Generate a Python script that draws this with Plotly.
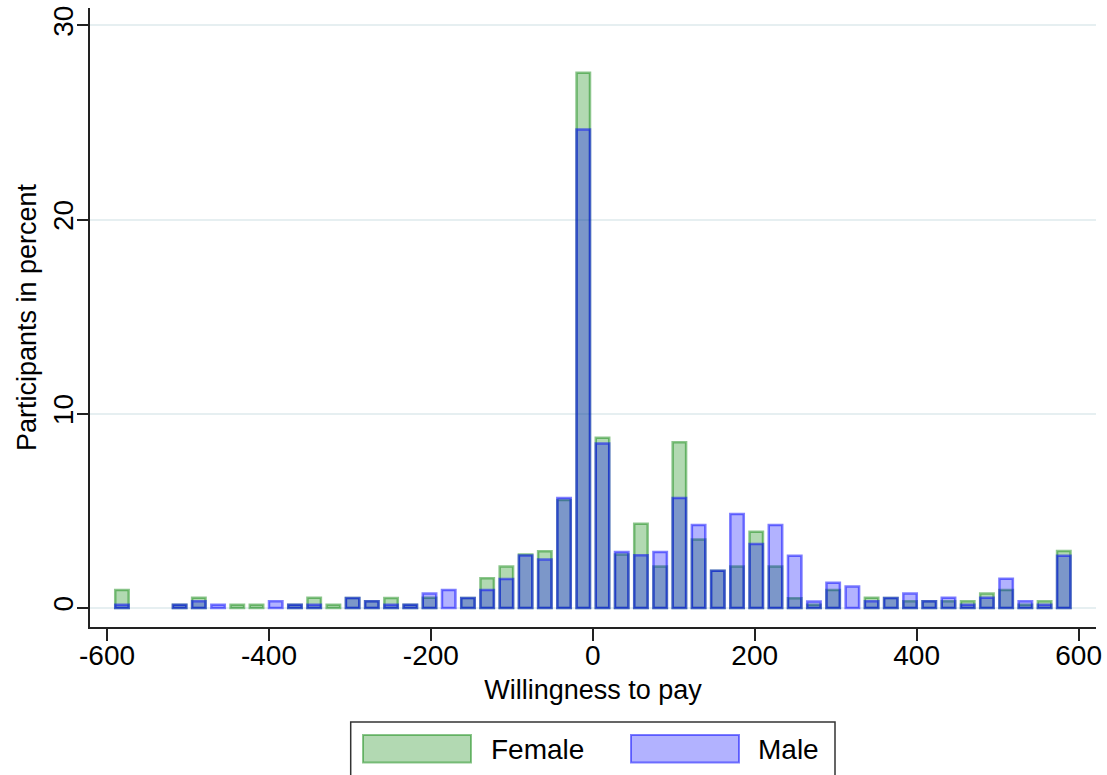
import plotly.graph_objects as go

# Histogram bins (Stata-style): 50 bins
bin_start = -593.4
bin_width = 23.74
n_bins = 50

female_pct = [0.93, 0, 0, 0.17, 0.53, 0, 0.17, 0.17, 0, 0.17,
              0.53, 0.17, 0.51, 0.34, 0.51, 0.17, 0.53, 0, 0.51, 1.53,
              2.13, 2.75, 2.92, 5.56, 27.57, 8.77, 2.75, 4.34, 2.13, 8.54,
              3.53, 1.92, 2.13, 3.93, 2.13, 0.50, 0.17, 0.93, 0, 0.53,
              0.51, 0.34, 0.34, 0.34, 0.34, 0.74, 0.93, 0.17, 0.34, 2.93]
male_pct = [0.17, 0, 0, 0.17, 0.34, 0.17, 0, 0, 0.34, 0.17,
            0.17, 0, 0.51, 0.34, 0.17, 0.17, 0.74, 0.93, 0.51, 0.93,
            1.49, 2.70, 2.49, 5.66, 24.64, 8.47, 2.88, 2.71, 2.88, 5.66,
            4.27, 1.92, 4.84, 3.29, 4.27, 2.69, 0.33, 1.30, 1.10, 0.34,
            0.51, 0.74, 0.34, 0.53, 0.17, 0.53, 1.51, 0.34, 0.17, 2.69]

x_ticks = [-600, -400, -200, 0, 200, 400, 600]
y_ticks = [0, 10, 20, 30]

centers = [bin_start + bin_width * (i + 0.5) for i in range(n_bins)]

def nz(vals):
    return [v if v > 0 else None for v in vals]

GREEN_FILL = "rgba(0,128,0,0.30)"
GREEN_LINE = "rgba(0,128,0,0.45)"
BLUE_FILL = "rgba(0,0,255,0.30)"
BLUE_LINE = "rgba(0,0,255,0.50)"
FONT = "Liberation Sans, Arial, Helvetica, sans-serif"

fig = go.Figure()
fig.add_trace(go.Bar(x=centers, y=nz(female_pct), name="Female",
                     width=bin_width * 0.70,
                     marker=dict(color=GREEN_FILL, line=dict(color=GREEN_LINE, width=2.5)),
                     showlegend=False))
fig.add_trace(go.Bar(x=centers, y=nz(male_pct), name="Male",
                     width=bin_width * 0.70,
                     marker=dict(color=BLUE_FILL, line=dict(color=BLUE_LINE, width=2.5)),
                     showlegend=False))

fig.update_layout(
    width=1107, height=775,
    barmode="overlay",
    paper_bgcolor="white", plot_bgcolor="white",
    margin=dict(l=90, r=11, t=8, b=148, autoexpand=False),
    font=dict(family=FONT, size=27, color="black"),
    xaxis=dict(range=[-621, 621.5], tickvals=x_ticks, ticktext=[str(v) for v in x_ticks],
               automargin=False, ticklabeloverflow="allow",
               showgrid=False, zeroline=False, showline=True, linecolor="#222", linewidth=1.5,
               ticks="outside", ticklen=12, tickwidth=1.5, tickcolor="#222",
               tickfont=dict(size=28), ticklabelstandoff=-9,
               title=dict(text="Willingness to pay", font=dict(size=27), standoff=10)),
    yaxis=dict(range=[-0.98, 30.9], tickvals=y_ticks, ticktext=[str(v) for v in y_ticks],
               automargin=False, ticklabeloverflow="allow",
               showgrid=True, gridcolor="#e6eff1", gridwidth=1.5, zeroline=False,
               showline=True, linecolor="#222", linewidth=1.5,
               ticks="outside", ticklen=11, tickwidth=1.5, tickcolor="#222",
               tickangle=-90, tickfont=dict(size=28), ticklabelstandoff=-7,
               title=dict(text="Participants in percent", font=dict(size=27), standoff=4)),
)

# Custom legend (Stata-style, below the plot)
def px_x(p):
    return (p - 90) / 1006.0

def px_y(p):
    return (627 - p) / 619.0

fig.add_shape(type="rect", xref="paper", yref="paper",
              x0=px_x(350.7), x1=px_x(835), y0=px_y(780), y1=px_y(722),
              line=dict(color="#333", width=1.5), fillcolor="white", layer="below")
fig.add_shape(type="rect", xref="paper", yref="paper",
              x0=px_x(363), x1=px_x(471), y0=px_y(762.5), y1=px_y(735),
              line=dict(color=GREEN_LINE, width=2), fillcolor=GREEN_FILL)
fig.add_shape(type="rect", xref="paper", yref="paper",
              x0=px_x(631), x1=px_x(739), y0=px_y(762.5), y1=px_y(735),
              line=dict(color=BLUE_LINE, width=2), fillcolor=BLUE_FILL)
fig.add_annotation(xref="paper", yref="paper", x=px_x(489), y=px_y(749),
                   text="Female", showarrow=False, xanchor="left", yanchor="middle",
                   font=dict(size=28, family=FONT, color="black"))
fig.add_annotation(xref="paper", yref="paper", x=px_x(756), y=px_y(749),
                   text="Male", showarrow=False, xanchor="left", yanchor="middle",
                   font=dict(size=28, family=FONT, color="black"))

# remove the browser's default 8px body margin so the figure starts at (0, 0)
fig.write_html("out.html",
               config={"displayModeBar": False},
               post_script="document.body.style.margin='0';document.body.style.overflow='hidden';")
